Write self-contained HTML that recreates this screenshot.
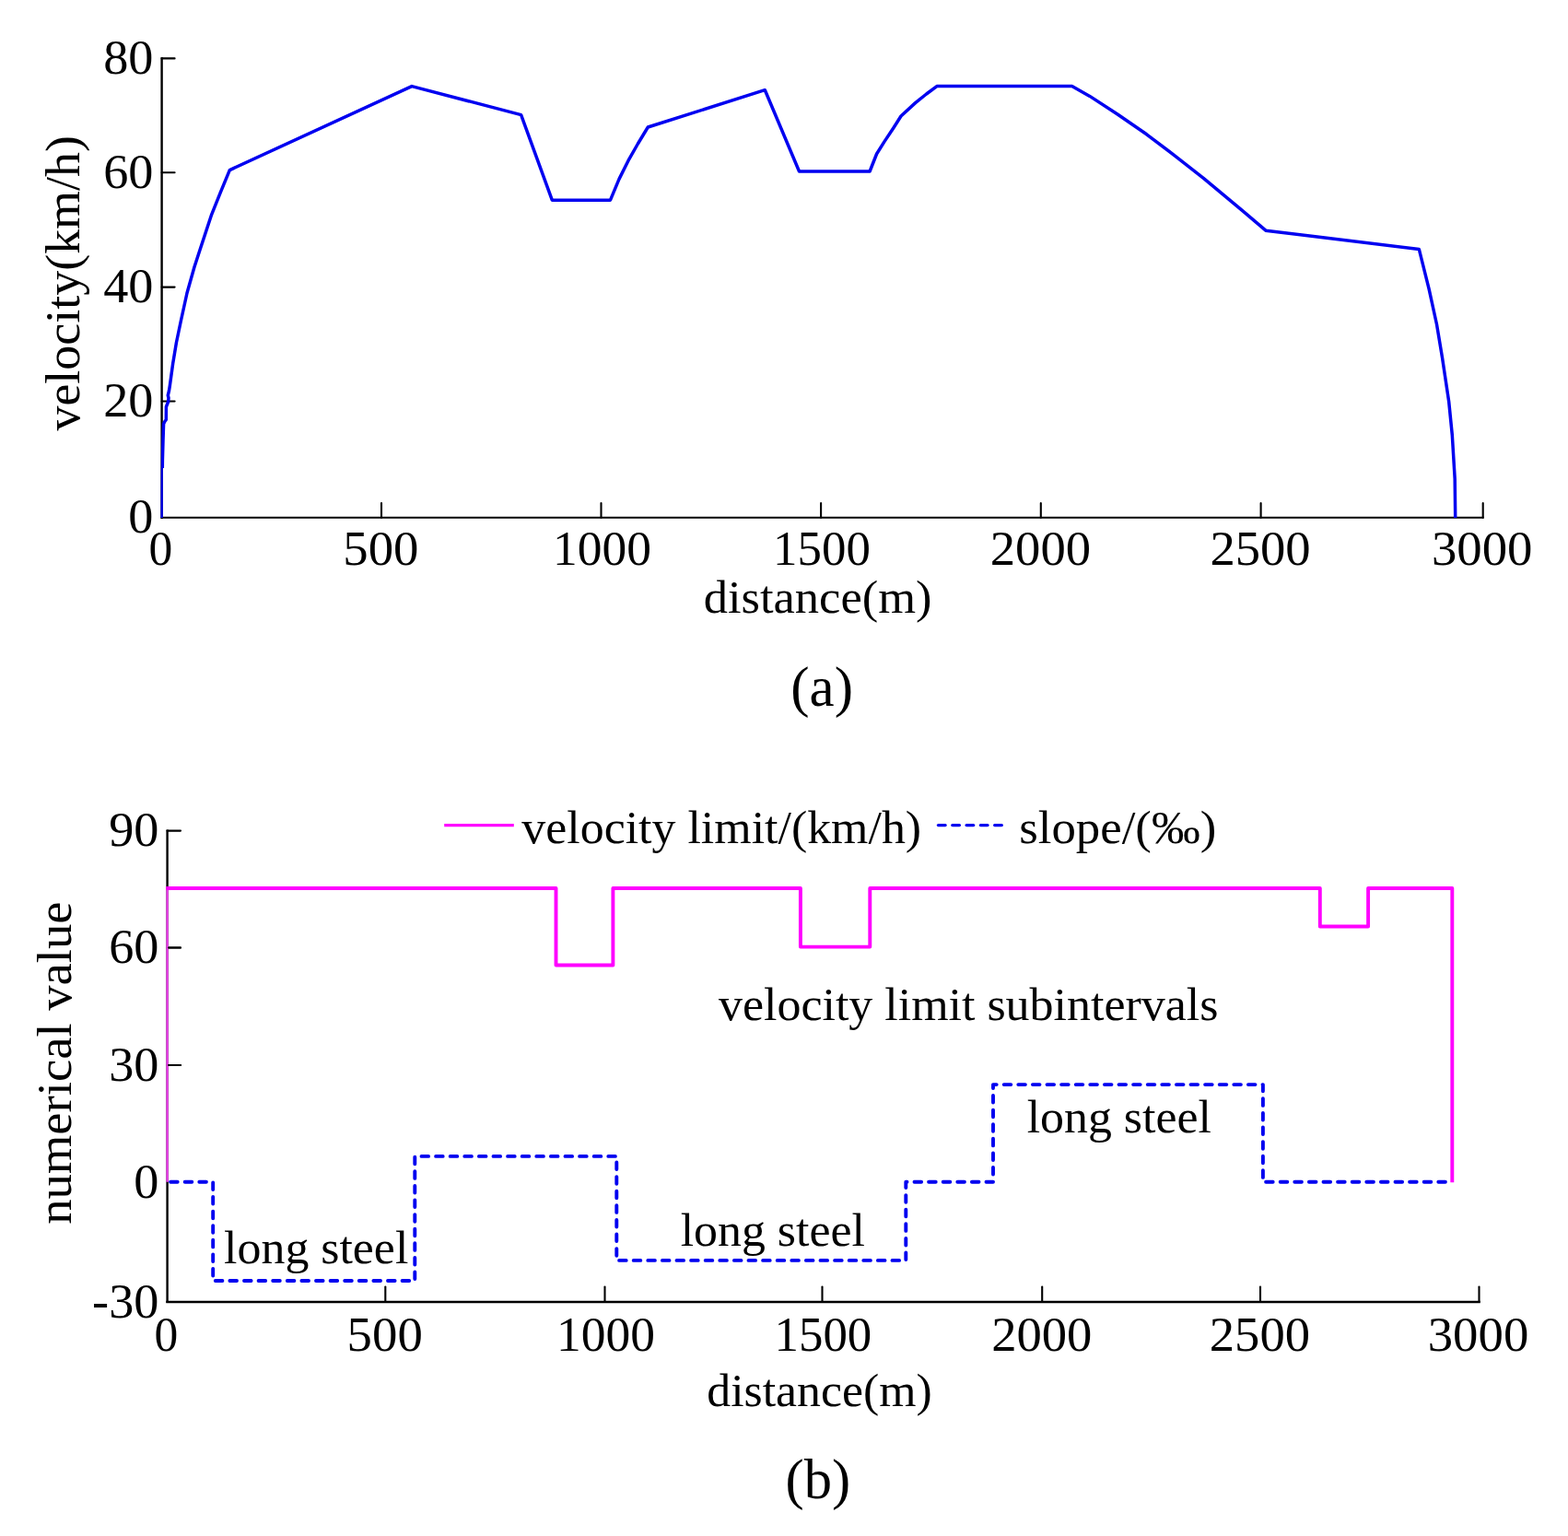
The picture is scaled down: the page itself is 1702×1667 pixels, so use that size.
<!DOCTYPE html>
<html lang="en">
<head>
<meta charset="utf-8">
<title>Velocity profile and line conditions</title>
<style>
html,body{margin:0;padding:0;background:#fff;}
body{width:1702px;height:1667px;overflow:hidden;}
svg{display:block;}
svg text{font-family:"Liberation Serif", "DejaVu Serif", serif;fill:#000;}
</style>
</head>
<body>
<svg width="1702" height="1667" viewBox="0 0 1702 1667">
<rect width="1702" height="1667" fill="#fff"/>
<defs>
<clipPath id="clipA"><rect x="174.5" y="40" width="1500" height="468"/><rect x="174.4" y="508" width="2.4" height="55"/><rect x="300" y="508" width="1400" height="55"/></clipPath>
</defs>
<g id="chart-a">
<g stroke="#000" fill="none" stroke-linecap="round">
<path d="M175.6 63.4V561.7" stroke-width="2.4" stroke-linecap="square"/>
<path d="M175.6 561.7H1609.7" stroke-width="1.9" stroke-linecap="square"/>
<path d="M175.6 63.4H189.6" stroke-width="2.1"/>
<path d="M175.6 187.3H189.6" stroke-width="2.1"/>
<path d="M175.6 311.6H189.6" stroke-width="2.1"/>
<path d="M175.6 435.5H189.6" stroke-width="2.1"/>
<path d="M414.0 561.7V546.1" stroke-width="2.1"/>
<path d="M652.5 561.7V546.1" stroke-width="2.1"/>
<path d="M891.1 561.7V546.1" stroke-width="2.1"/>
<path d="M1129.8 561.7V546.1" stroke-width="2.1"/>
<path d="M1368.6 561.7V546.1" stroke-width="2.1"/>
<path d="M1609.7 561.7V546.1" stroke-width="2.1"/>
</g>
<polyline clip-path="url(#clipA)" fill="none" stroke="#0000f0" stroke-width="3.5" stroke-linejoin="round" points="175.8,562.0 176.0,530.0 176.4,500.0 177.0,478.0 177.6,460.0 178.8,457.5 180.3,455.5 180.4,441.5 182.6,436.0 183.0,432.0 182.3,429.0 183.5,424.0 184.3,419.0 187.6,395.0 191.4,372.0 196.2,349.0 203.0,318.0 210.9,290.0 217.0,271.2 229.7,232.8 239.3,208.8 249.3,184.6 447.0,93.6 565.6,124.6 599.3,217.2 662.5,217.2 672.0,194.4 682.8,172.8 692.4,156.0 703.3,138.0 830.3,97.7 867.5,186.0 944.1,186.0 951.6,167.0 960.0,153.6 969.6,139.2 978.0,126.0 993.6,111.6 1005.6,102.0 1016.9,93.6 1163.6,93.5 1182.9,104.4 1213.0,124.0 1244.6,145.8 1275.0,168.8 1306.3,193.4 1348.6,228.6 1373.9,250.2 1540.3,270.4 1551.1,313.6 1559.5,352.0 1565.5,388.0 1572.7,436.0 1576.3,472.0 1579.2,520.0 1579.7,562.0"/>
<text transform="translate(166.40 80.20) scale(1.0200 1)" font-size="53.2" text-anchor="end">80</text>
<text transform="translate(166.40 204.10) scale(1.0200 1)" font-size="53.2" text-anchor="end">60</text>
<text transform="translate(166.40 328.40) scale(1.0200 1)" font-size="53.2" text-anchor="end">40</text>
<text transform="translate(166.40 452.30) scale(1.0200 1)" font-size="53.2" text-anchor="end">20</text>
<text transform="translate(166.40 578.10) scale(1.0200 1)" font-size="53.2" text-anchor="end">0</text>
<text transform="translate(174.50 613.00) scale(0.9700 1)" font-size="53.2" text-anchor="middle">0</text>
<text transform="translate(413.40 613.00) scale(1.0300 1)" font-size="53.2" text-anchor="middle">500</text>
<text transform="translate(653.40 613.00) scale(1.0050 1)" font-size="53.2" text-anchor="middle">1000</text>
<text transform="translate(892.00 613.00) scale(0.9950 1)" font-size="53.2" text-anchor="middle">1500</text>
<text transform="translate(1129.40 613.00) scale(1.0270 1)" font-size="53.2" text-anchor="middle">2000</text>
<text transform="translate(1368.00 613.00) scale(1.0270 1)" font-size="53.2" text-anchor="middle">2500</text>
<text transform="translate(1608.70 613.00) scale(1.0300 1)" font-size="53.2" text-anchor="middle">3000</text>
<text transform="translate(887.60 664.60) scale(1.0200 1)" font-size="51.5" text-anchor="middle">distance(m)</text>
<text transform="translate(85.90 307.30) rotate(-90) scale(1.0370 1)" font-size="52" text-anchor="middle">velocity(km/h)</text>
<text transform="translate(892.10 766.30)" font-size="61" text-anchor="middle">(a)</text>
</g>
<g id="chart-b">
<g stroke="#000" fill="none" stroke-linecap="round">
<path d="M181.6 901.6V1412.9" stroke-width="2.4" stroke-linecap="square"/>
<path d="M181.6 1412.9H1605.5" stroke-width="2.5" stroke-linecap="square"/>
<path d="M181.6 901.6H196.0" stroke-width="2.1"/>
<path d="M181.6 1028.5H196.0" stroke-width="2.1"/>
<path d="M181.6 1156.0H196.0" stroke-width="2.1"/>
<path d="M418.3 1412.9V1396.5" stroke-width="2.1"/>
<path d="M656.5 1412.9V1396.5" stroke-width="2.1"/>
<path d="M892.5 1412.9V1396.5" stroke-width="2.1"/>
<path d="M1131.2 1412.9V1396.5" stroke-width="2.1"/>
<path d="M1368.0 1412.9V1396.5" stroke-width="2.1"/>
<path d="M1605.5 1412.9V1396.5" stroke-width="2.1"/>
</g>
<path d="M181.6 1282.7V964.0" stroke="#f244f2" stroke-width="2.4" fill="none"/>
<path d="M196.0 1028.5h-13 M196.0 1156.0h-13" stroke="#000" stroke-width="2.1" stroke-linecap="round" fill="none"/>
<polyline fill="none" stroke="#ff00ff" stroke-width="3.9" stroke-linejoin="round" points="180.2,964.0 603.5,964.0 603.5,1047.5 665.4,1047.5 665.4,964.0 868.9,964.0 868.9,1027.6 944.3,1027.6 944.3,964.0 1432.8,964.0 1432.8,1005.5 1485.1,1005.5 1485.1,964.0 1576.3,964.0 1576.3,1283.2"/>
<polyline fill="none" stroke="#0000f0" stroke-width="3.9" stroke-dasharray="7.6 8.0" stroke-linecap="round" stroke-linejoin="round" points="185.1,1282.7 231.2,1282.7 231.2,1390.0 450.3,1390.0 450.3,1254.9 669.3,1254.9 669.3,1367.9 983.3,1367.9 983.3,1282.7 1078.0,1282.7 1078.0,1177.1 1370.9,1177.1 1370.9,1282.7 1573.5,1282.7"/>
<path d="M482.2 895.7H557.8" stroke="#ff00ff" stroke-width="3.3" fill="none"/>
<path d="M1018.5 895.6H1088" stroke="#0000f0" stroke-width="3.4" stroke-dasharray="7.6 7.7" stroke-linecap="round" fill="none"/>
<text transform="translate(566.30 915.30) scale(1.0080 1)" font-size="51.5" text-anchor="start">velocity limit/(km/h)</text>
<text transform="translate(1106.20 915.30) scale(1.0260 1)" font-size="51.5" text-anchor="start">slope/(‰)</text>
<text transform="translate(172.40 918.40) scale(1.0200 1)" font-size="53.2" text-anchor="end">90</text>
<text transform="translate(172.40 1045.30) scale(1.0200 1)" font-size="53.2" text-anchor="end">60</text>
<text transform="translate(172.40 1172.80) scale(1.0200 1)" font-size="53.2" text-anchor="end">30</text>
<text transform="translate(172.40 1300.10) scale(1.0200 1)" font-size="53.2" text-anchor="end">0</text>
<text transform="translate(172.40 1429.50) scale(1.0200 1)" font-size="53.2" text-anchor="end">-30</text>
<text transform="translate(180.50 1465.50) scale(0.9700 1)" font-size="53.2" text-anchor="middle">0</text>
<text transform="translate(417.70 1465.50) scale(1.0300 1)" font-size="53.2" text-anchor="middle">500</text>
<text transform="translate(657.40 1465.50) scale(1.0050 1)" font-size="53.2" text-anchor="middle">1000</text>
<text transform="translate(893.40 1465.50) scale(0.9950 1)" font-size="53.2" text-anchor="middle">1500</text>
<text transform="translate(1130.80 1465.50) scale(1.0270 1)" font-size="53.2" text-anchor="middle">2000</text>
<text transform="translate(1367.40 1465.50) scale(1.0270 1)" font-size="53.2" text-anchor="middle">2500</text>
<text transform="translate(1604.50 1465.50) scale(1.0300 1)" font-size="53.2" text-anchor="middle">3000</text>
<text transform="translate(889.50 1526.10) scale(1.0060 1)" font-size="51.5" text-anchor="middle">distance(m)</text>
<text transform="translate(77.00 1153.60) rotate(-90) scale(1.0510 1)" font-size="52" text-anchor="middle">numerical value</text>
<text transform="translate(887.80 1626.30)" font-size="60.5" text-anchor="middle">(b)</text>
<text transform="translate(1051.20 1107.20) scale(1.0090 1)" font-size="51.5" text-anchor="middle">velocity limit subintervals</text>
<text transform="translate(343.20 1371.40) scale(1.0070 1)" font-size="51.5" text-anchor="middle">long steel</text>
<text transform="translate(838.80 1351.80) scale(1.0070 1)" font-size="51.5" text-anchor="middle">long steel</text>
<text transform="translate(1214.80 1228.60) scale(1.0070 1)" font-size="51.5" text-anchor="middle">long steel</text>
</g>
</svg>
</body>
</html>
